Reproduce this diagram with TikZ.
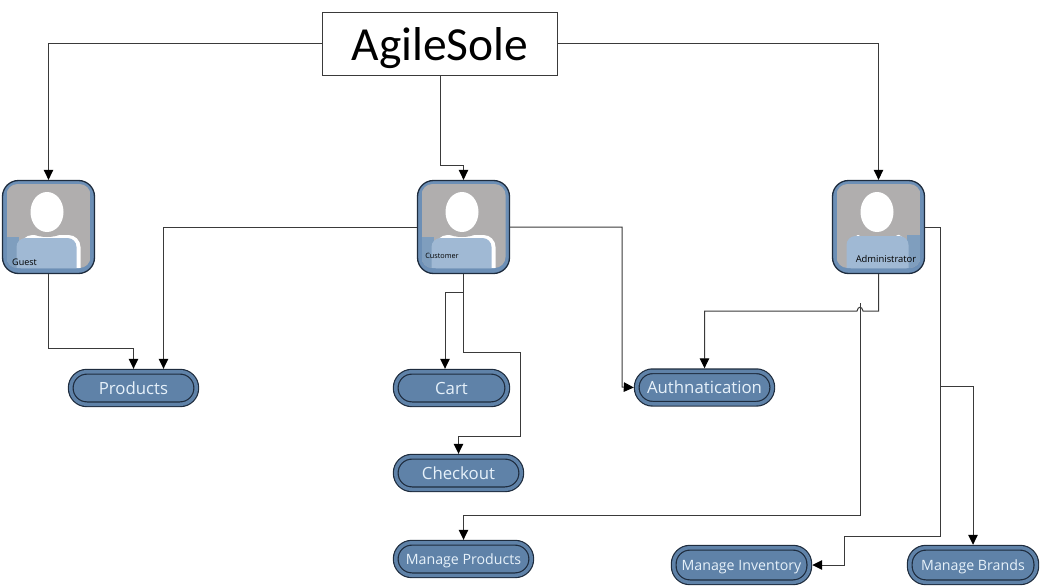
\documentclass[tikz,border=0pt]{standalone}
\usepackage{fontspec}
\setmainfont{Open Sans}
\newfontfamily\titlefont{Carlito}
\usetikzlibrary{arrows.meta}
\definecolor{pillblue}{HTML}{5F82A8}
\definecolor{edgedark}{HTML}{1E2C3E}
\definecolor{bandblue}{HTML}{6C8FB6}
\definecolor{photogray}{HTML}{B0AEAE}
\definecolor{bodyblue}{HTML}{A0B9D4}
\definecolor{stripblue}{HTML}{7F9EBE}
\definecolor{wirecol}{HTML}{3A3A3A}
\definecolor{labelwhite}{HTML}{E6F1FA}

% head and shoulders
\tikzset{
  personpic/.pic={
    \begin{scope}
      \clip[rounded corners=11pt] (-42,-43) rectangle (42,41);
      \fill[photogray] (-42,-43) rectangle (42,41);
      \fill[stripblue] (-42,10) rectangle (-30,41);
      \fill[white, rounded corners=12pt] (-28,8) rectangle (32,60);
      \fill[photogray] (-1.5,0) ellipse (20 and 10);
      \fill[bodyblue, rounded corners=9pt] (-32,11) rectangle (28,60);
      \fill[white] (-1.5,-15) ellipse (16.5 and 20);
    \end{scope}
  },
  rimlesspic/.pic={
    \begin{scope}
      \clip[rounded corners=11pt] (-42,-43) rectangle (42,41);
      \fill[photogray] (-42,-43) rectangle (42,41);
      \fill[stripblue] (28,8) rectangle (42,41);
      \fill[white, rounded corners=12pt] (-28,7) rectangle (28,60);
      \fill[photogray] (-0.5,1) ellipse (24 and 12);
      \fill[bodyblue, rounded corners=9pt] (-32,9) rectangle (30,60);
      \fill[white] (-1.5,-15) ellipse (16.5 and 20);
    \end{scope}
  }
}

\begin{document}
\begin{tikzpicture}[
  x=1pt, y=-1pt,
  >={Triangle[length=10pt,width=9.5pt,color=black]},
  wire/.style={draw=wirecol, line width=1pt},
  titlebox/.style={draw=wirecol, fill=white, line width=1pt, minimum width=235pt,
                   minimum height=63pt, outer sep=0.5pt, inner sep=0pt,
                   text height=32pt, text depth=0pt,
                   font=\titlefont\fontsize{47.5}{48}\selectfont},
  usercard/.style={draw=edgedark, fill=bandblue, line width=1.3pt, rounded corners=16pt,
                   minimum width=92pt, minimum height=93pt, outer sep=0.65pt, inner sep=0pt},
  pill/.style={draw=edgedark, double=pillblue, double distance=3.5pt, fill=pillblue,
               line width=1.2pt, rounded corners=16pt, minimum height=32.5pt, outer sep=2.95pt,
               inner sep=0pt, text=labelwhite, text height=13pt, text depth=1pt,
               font=\fontsize{16.8}{18}\selectfont},
  smallpill/.style={pill, text height=12pt, text depth=2pt, font=\fontsize{14.2}{16}\selectfont},
  lb/.style={inner sep=0pt, text=black}]

  \useasboundingbox (0,0) rectangle (1040,586);

  \node[titlebox] (title) at (440,44) {AgileSole};

  \node[usercard] (guest) at (48.5,227) {};
  \node[usercard] (customer) at (463.5,227) {};
  \node[usercard] (admin) at (878.5,227) {};
  \pic at (guest.center) {personpic};
  \pic at (customer.center) {personpic};
  \pic at (admin.center) {rimlesspic};
  \node[lb, font=\fontsize{9}{10}\selectfont] (guestlabel) at (24.5,262) {Guest};
  \node[lb, font=\fontsize{7.3}{8}\selectfont] (customerlabel) at (442,256) {Customer};
  \node[lb, font=\fontsize{9.4}{10}\selectfont] (adminlabel) at (886,258.5) {Administrator};

  \node[pill, minimum width=125.5pt] (products) at (133.5,388) {Products};
  \node[pill, minimum width=111.5pt] (cart) at (451.5,388) {Cart};
  \node[pill, minimum width=125.5pt] (checkout) at (458.5,473) {Checkout};
  \node[pill, minimum width=135.5pt] (auth) at (704.5,387.5) {Authnatication};
  \node[smallpill, minimum width=135.5pt] (mproducts) at (463.5,559) {Manage Products};
  \node[smallpill, minimum width=135.5pt, minimum height=34.5pt] (minventory) at (741.5,565) {Manage Inventory};
  \node[smallpill, minimum width=126.5pt, minimum height=34.5pt] (mbrands) at (973,565) {Manage Brands};

  \coordinate (hopend) at (860,303);
  \coordinate (trunk) at (940,386);

  \draw[wire, ->] (title.west) -| (guest.north);
  \draw[wire, ->] (title.east) -| (admin.north);
  \draw[wire, ->] (title.south) |- (463.5,165) -- (customer.north);

  \draw[wire, ->] (guest.south) |- (133.5,348) -- (products.north);
  \draw[wire, ->] (customer.west) -| ([xshift=30pt]products.north);
  \draw[wire, ->] (customer.east) -| (622,387) -- (auth.west);
  \draw[wire, ->] (customer.south) -- (463.5,292) -| ([xshift=-6.5pt]cart.north);
  \draw[wire, ->] (customer.south) -- (463.5,352) -| (520,436) -| (checkout.north);

  \draw[wire, ->] (admin.south) -- (878.5,311) -- (863,311)
    .. controls (862,306) and (858,306) .. (857,311) -| (auth.north);
  \draw[wire, ->] (hopend) -- (860,515) -| (mproducts.north);
  \draw[wire, ->] (admin.east) -| (940,536) -| (844,565) -- (minventory.east);
  \draw[wire, ->] (trunk) -| (mbrands.north);
\end{tikzpicture}
\end{document}
